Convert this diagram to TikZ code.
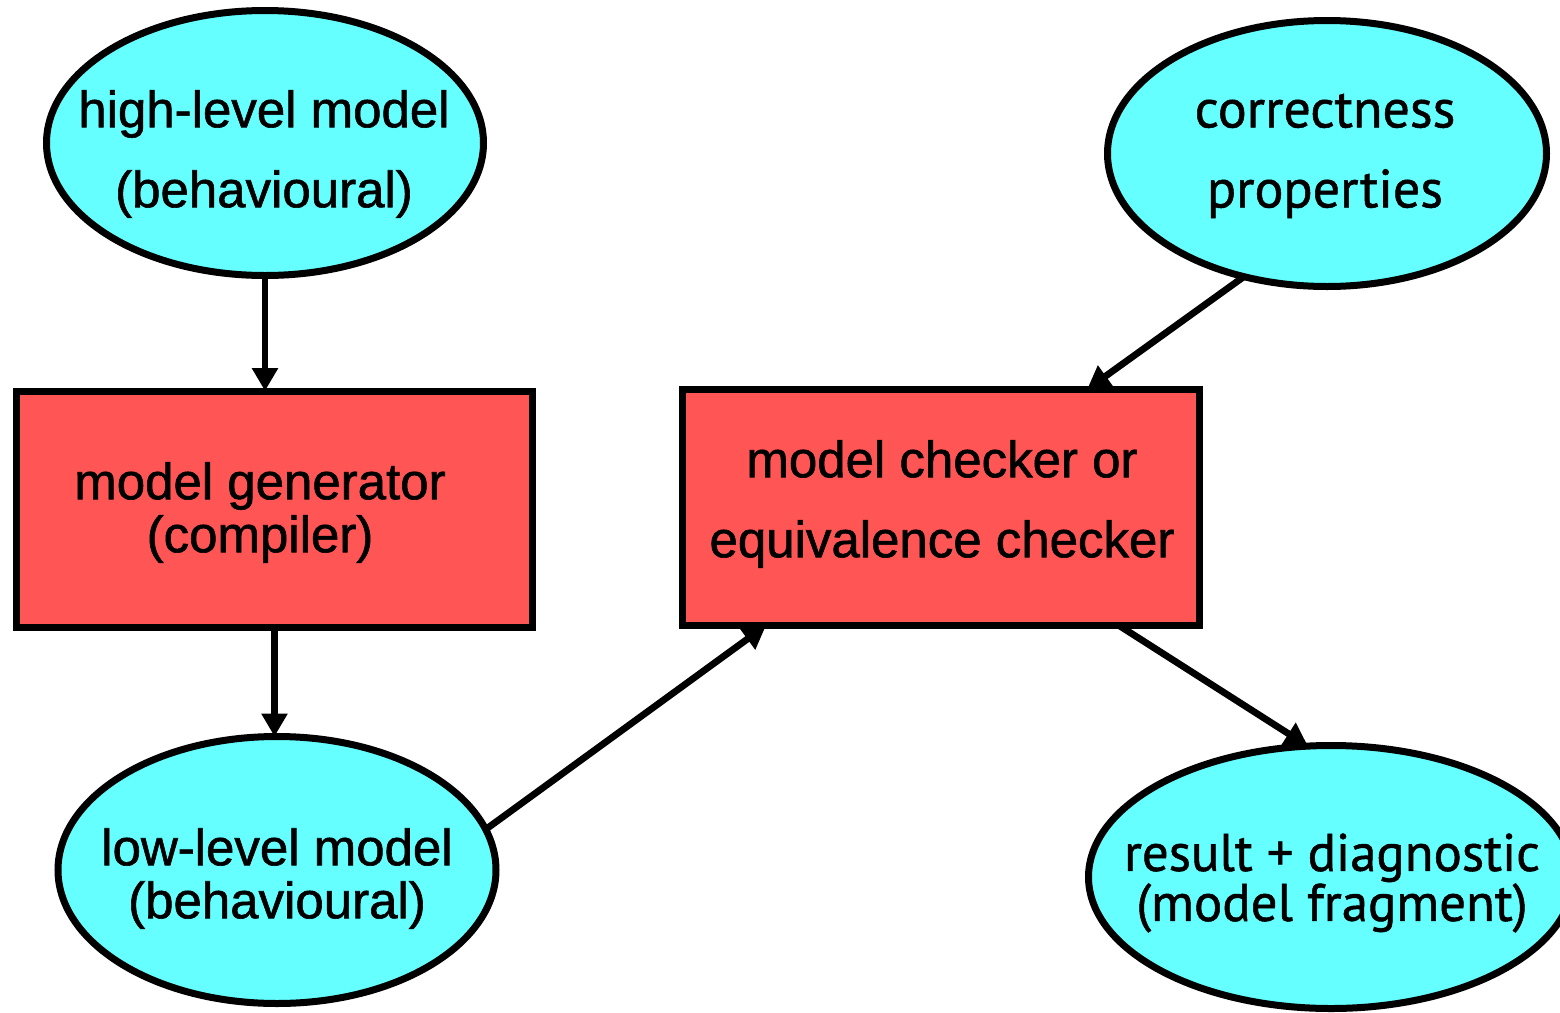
\documentclass[tikz,border=0pt]{standalone}
\usepackage{fontspec}
\usetikzlibrary{arrows.meta,shapes.geometric,calc}
\newfontfamily\lsans[FakeBold=1.2]{Liberation Sans}
\newfontfamily\ptsans[FakeBold=1.0]{PT Sans}
\definecolor{ecyan}{RGB}{102,255,255}
\definecolor{bred}{RGB}{255,85,85}
\begin{document}
\begin{tikzpicture}[x=0.5pt,y=-0.5pt,
  ell/.style={ellipse,draw=black,fill=ecyan,line width=3.5pt,inner sep=0pt,outer sep=0pt},
  box/.style={rectangle,draw=black,fill=bred,line width=3.5pt,inner sep=0pt,outer sep=0pt},
  lbl/.style={align=center,inner sep=0pt,outer sep=0pt},
  wide/.style={font=\lsans\fontsize{25.5}{40}\selectfont},
  tight/.style={font=\lsans\fontsize{25.5}{26.5}\selectfont},
  ptwide/.style={font=\ptsans\fontsize{27}{40}\selectfont},
  pttight/.style={font=\ptsans\fontsize{26.4}{25}\selectfont},
  conn/.style={line width=3.4pt,-{Triangle[length=11.5pt,width=12.5pt]}}
]
\useasboundingbox (0,0) rectangle (1560,1013);
% shapes
\node[ell,minimum width=218.5pt,minimum height=132.5pt] (hl) at (265,143) {};
\node[ell,minimum width=219.5pt,minimum height=133pt] (cp) at (1327,153.5) {};
\node[ell,minimum width=219pt,minimum height=133.5pt] (ll) at (277,870) {};
\node[ell,minimum width=242.5pt,minimum height=131.5pt] (res) at (1331,877) {};
\node[box,minimum width=258.25pt,minimum height=118pt] (gen) at (274.5,509) {};
\node[box,minimum width=258.5pt,minimum height=118pt] (chk) at (941,507.5) {};
% labels
\node[lbl,wide] (hlt) at (264,154) {high-level model\\(behavioural)};
\node[lbl,tight] (gent) at (260,512.5) {model generator\\(compiler)};
\node[lbl,wide] (chkt) at (942,504) {model checker or\\equivalence checker};
\node[lbl,tight] (llt) at (277,878.5) {low-level model\\(behavioural)};
\node[lbl,ptwide] (cpt) at (1325,156) {correctness\\properties};
\node[lbl,pttight] (rest) at (1332,883) {result + diagnostic\\(model fragment)};
% connectors
\draw[conn] (hl.south) -- (hl.south |- gen.north);
\draw[conn] (gen.south) -- (gen.south |- ll.north);
\draw[conn] (ll.11) -- ([xshift=-87.5pt]chk.south);
\draw[conn] (cp.236) -- ([xshift=73pt]chk.north);
\draw[conn] ([xshift=89pt]chk.south) -- (res.100);
\end{tikzpicture}
\end{document}
